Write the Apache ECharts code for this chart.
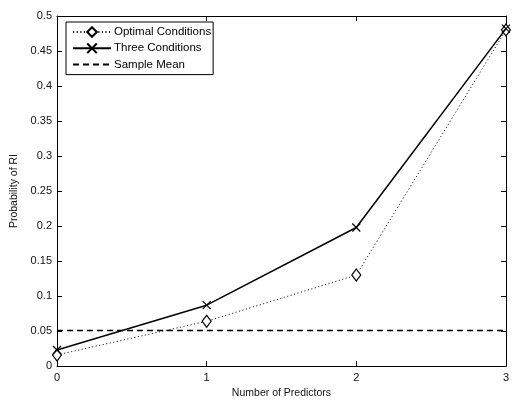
<!DOCTYPE html>
<html><head><meta charset="utf-8">
<script src="https://cdn.jsdelivr.net/npm/echarts@6/dist/echarts.min.js"></script>
<style>html,body{margin:0;padding:0;background:#fff}#c{width:512px;height:404px}</style>
</head><body><div id="c"></div>
<script>
var xValues = [0, 1, 2, 3];
var optimal = [0.016, 0.064, 0.130, 0.480];
var three = [0.023, 0.087, 0.198, 0.482];
var sampleMean = [0.051, 0.051];
var sampleX = [0, 3];
var seriesNames = ['Optimal Conditions', 'Three Conditions', 'Sample Mean'];

function pairs(xs, ys){ return xs.map(function(x,i){ return [x, ys[i]]; }); }
var crossPath = 'path://M0,0L10,10M10,0L0,10';
var font = 'Liberation Sans, Arial, sans-serif';
var chart = echarts.init(document.getElementById('c'));
var axisCommon = {
  axisLine: {show: true, onZero: false, lineStyle: {color: '#000', width: 1}},
  axisTick: {show: true, inside: true, length: 5, lineStyle: {color: '#000'}},
  splitLine: {show: false}
};
chart.setOption({
  animation: false,
  backgroundColor: '#fff',
  grid: {left: 57, right: 1, top: 16, bottom: 31, containLabel: false},
  xAxis: [
    Object.assign({type: 'value', min: 0, max: 3, interval: 1, position: 'bottom',
      name: 'Number of Predictors', nameLocation: 'middle', nameGap: 21,
      nameTextStyle: {fontFamily: font, fontSize: 10.5, color: '#111'},
      axisLabel: {fontFamily: font, fontSize: 11, color: '#111', margin: 6}}, axisCommon),
    Object.assign({type: 'value', min: 0, max: 3, interval: 1, position: 'top',
      axisLabel: {show: false}}, axisCommon)
  ],
  yAxis: [
    Object.assign({type: 'value', min: 0, max: 0.5, interval: 0.05, position: 'left',
      name: 'Probability of RI', nameLocation: 'middle', nameGap: 35,
      nameTextStyle: {fontFamily: font, fontSize: 10.5, color: '#111'},
      axisLabel: {fontFamily: font, fontSize: 11, color: '#111', margin: 5}}, axisCommon),
    Object.assign({type: 'value', min: 0, max: 0.5, interval: 0.05, position: 'right',
      axisLabel: {show: false}}, axisCommon)
  ],
  legend: {
    left: 66, top: 22, orient: 'vertical',
    data: [seriesNames[0], seriesNames[1], {name: seriesNames[2], itemStyle: {opacity: 0}}],
    itemWidth: 38, itemHeight: 12, itemGap: 3,
    padding: [4, 2, 4, 6],
    borderColor: '#000', borderWidth: 1, backgroundColor: '#fff',
    textStyle: {fontFamily: font, fontSize: 11.5, color: '#000', padding: [0,0,0,-2]}
  },
  series: [
    {name: seriesNames[0], type: 'line', data: pairs(xValues, optimal),
      symbol: 'diamond', symbolSize: [9, 12],
      lineStyle: {color: '#222', width: 1, type: [1.2, 2.4]},
      itemStyle: {color: '#fff', borderColor: '#000', borderWidth: 1.2}, z: 3},
    {name: seriesNames[1], type: 'line', data: pairs(xValues, three),
      symbol: crossPath, symbolSize: 8,
      lineStyle: {color: '#000', width: 1.5, type: 'solid'},
      itemStyle: {color: 'none', borderColor: '#000', borderWidth: 1.2}, z: 4},
    {name: seriesNames[2], type: 'line', data: pairs(sampleX, sampleMean),
      symbol: 'none',
      lineStyle: {color: '#000', width: 1.5, type: [6, 4]},
      itemStyle: {color: '#000'}, z: 2}
  ]
});
</script></body></html>
